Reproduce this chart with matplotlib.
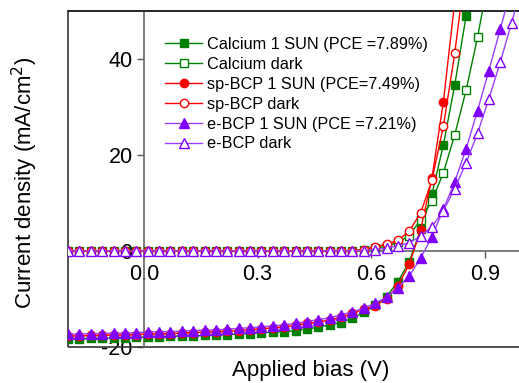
import matplotlib
matplotlib.use('Agg')
import matplotlib.pyplot as plt
from matplotlib.patches import Rectangle

plt.rcParams['font.family'] = ['Liberation Sans', 'DejaVu Sans']
plt.rcParams['axes.unicode_minus'] = False

# applied bias (V), one point every 0.03 V
bias = [-0.20, -0.17, -0.14, -0.11, -0.08, -0.05, -0.02, 0.01, 0.04, 0.07,
        0.10, 0.13, 0.16, 0.19, 0.22, 0.25, 0.28, 0.31, 0.34, 0.37,
        0.40, 0.43, 0.46, 0.49, 0.52, 0.55, 0.58, 0.61, 0.64, 0.67,
        0.70, 0.73, 0.76, 0.79, 0.82, 0.85, 0.88, 0.91, 0.94, 0.97, 1.00]

# current density (mA/cm2)
ca_sun = [-18.3, -18.3, -18.2, -18.2, -18.1, -18.1, -18.0, -17.9, -17.9, -17.8,
          -17.7, -17.7, -17.6, -17.5, -17.4, -17.3, -17.2, -17.0, -16.9, -16.8,
          -16.6, -16.25, -15.9, -15.4, -14.9, -14.0, -12.8, -11.3, -9.5, -6.4,
          -2.2, 4.5, 11.9, 22.1, 34.6, 49.0, 64.0]
ca_dark = [0.0, 0.0, 0.0, 0.0, 0.0, 0.0, 0.0, 0.0, 0.0, 0.0,
           0.0, 0.0, 0.0, 0.0, 0.0, 0.0, 0.0, 0.0, 0.0, 0.0,
           0.0, 0.0, 0.0, 0.0, 0.05, 0.1, 0.2, 0.6, 1.0, 1.8,
           3.2, 6.5, 10.5, 16.3, 24.2, 33.5, 44.5, 57.0]
sp_sun = [-17.7, -17.7, -17.6, -17.6, -17.5, -17.5, -17.4, -17.3, -17.3, -17.2,
          -17.1, -17.0, -16.9, -16.8, -16.7, -16.6, -16.4, -16.2, -16.0, -15.8,
          -15.5, -15.1, -14.8, -14.4, -13.8, -13.0, -12.1, -11.4, -9.9, -7.2,
          -2.8, 4.4, 15.3, 31.1, 52.0]
sp_dark = [0.0, 0.0, 0.0, 0.0, 0.0, 0.0, 0.0, 0.0, 0.0, 0.0,
           0.0, 0.0, 0.0, 0.0, 0.0, 0.0, 0.0, 0.0, 0.0, 0.0,
           0.0, 0.0, 0.0, 0.0, 0.05, 0.1, 0.3, 0.9, 1.4, 2.2,
           4.2, 7.9, 14.8, 26.0, 41.2, 60.0]
e_sun = [-17.3, -17.3, -17.2, -17.2, -17.1, -17.1, -17.0, -16.9, -16.8, -16.8,
         -16.7, -16.6, -16.5, -16.4, -16.3, -16.1, -16.0, -15.8, -15.6, -15.4,
         -15.1, -14.7, -14.3, -13.9, -13.3, -12.7, -11.9, -10.9, -9.6, -7.7,
         -5.2, -1.5, 3.0, 8.7, 14.4, 21.3, 29.2, 37.6, 46.2, 55.0]
e_dark = [0.0, 0.0, 0.0, 0.0, 0.0, 0.0, 0.0, 0.0, 0.0, 0.0,
          0.0, 0.0, 0.0, 0.0, 0.0, 0.0, 0.0, 0.0, 0.0, 0.0,
          0.0, 0.0, 0.0, 0.0, 0.0, 0.05, 0.1, 0.3, 0.6, 1.1,
          1.7, 3.1, 5.1, 8.4, 13.0, 18.4, 24.5, 31.7, 39.3, 47.6, 56.0]

labels = ['Calcium 1 SUN (PCE =7.89%)', 'Calcium dark',
          'sp-BCP 1 SUN (PCE=7.49%)', 'sp-BCP dark',
          'e-BCP 1 SUN (PCE =7.21%)', 'e-BCP dark']

GREEN = '#008000'
RED = '#ff0000'
PURPLE = '#8000ff'
PURPLE_LINE = '#9a40ff'

fig = plt.figure(figsize=(5.19, 3.83), dpi=100)
ax = fig.add_axes([68/519, 1 - 347/383, 455/519, 336/383])

series = [
    (ca_sun, GREEN, GREEN, 's', GREEN),
    (ca_dark, GREEN, GREEN, 's', 'white'),
    (sp_sun, RED, RED, 'o', RED),
    (sp_dark, RED, RED, 'o', 'white'),
    (e_sun, PURPLE_LINE, PURPLE, '^', PURPLE),
    (e_dark, PURPLE_LINE, PURPLE, '^', 'white'),
]
for (vals, lc, ec, mk, fc), lab in zip(series, labels):
    ax.plot(bias[:len(vals)], vals, color=lc, lw=1.0, marker=mk,
            markersize=6 if mk != '^' else 6.5, markerfacecolor=fc,
            markeredgecolor=ec, markeredgewidth=1.0, label=lab, zorder=3)

ax.set_xlim(-0.2, 1.0)
ax.set_ylim(-20, 50)
ax.set_xticks([0.0, 0.3, 0.6, 0.9])
ax.set_xticklabels(['0.0', '0.3', '0.6', '0.9'])
ax.set_yticks([-20, 0, 20, 40])

# axes cross at the origin, plus a plain frame around the plot
ax.spines['left'].set_position(('data', 0))
ax.spines['bottom'].set_position(('data', 0))
for s in ['left', 'bottom']:
    ax.spines[s].set_color('#666666')
    ax.spines[s].set_linewidth(1.2)
ax.spines['right'].set_visible(False)
ax.spines['top'].set_color('#222222')
ax.spines['top'].set_linewidth(1.2)
ax.add_patch(Rectangle((0, 0), 1, 1, transform=ax.transAxes, fill=False,
                       edgecolor='#333333', lw=1.2, clip_on=False, zorder=2.5))

ax.tick_params(axis='both', direction='out', length=5, width=1.0,
               color='#555555', labelsize=15.5)
ax.tick_params(axis='x', pad=4)
ax.tick_params(axis='y', pad=3)

ax.set_xlabel('Applied bias (V)', fontsize=16)
ax.set_ylabel('Current density (mA/cm$^2$)', fontsize=16)
ax.xaxis.set_label_coords((311 - 68) / 455, (347 - 360) / 336)
ax.yaxis.set_label_coords((40 - 68) / 455, (347 - 183) / 336)

ax.legend(loc='upper left', bbox_to_anchor=(165/519, 1 - 37/383),
          bbox_transform=fig.transFigure, frameon=False, fontsize=11.7,
          borderpad=0, borderaxespad=0, handlelength=2.3, handletextpad=0.3,
          labelspacing=0.3, numpoints=1)

fig.savefig('out.png', dpi=100)
